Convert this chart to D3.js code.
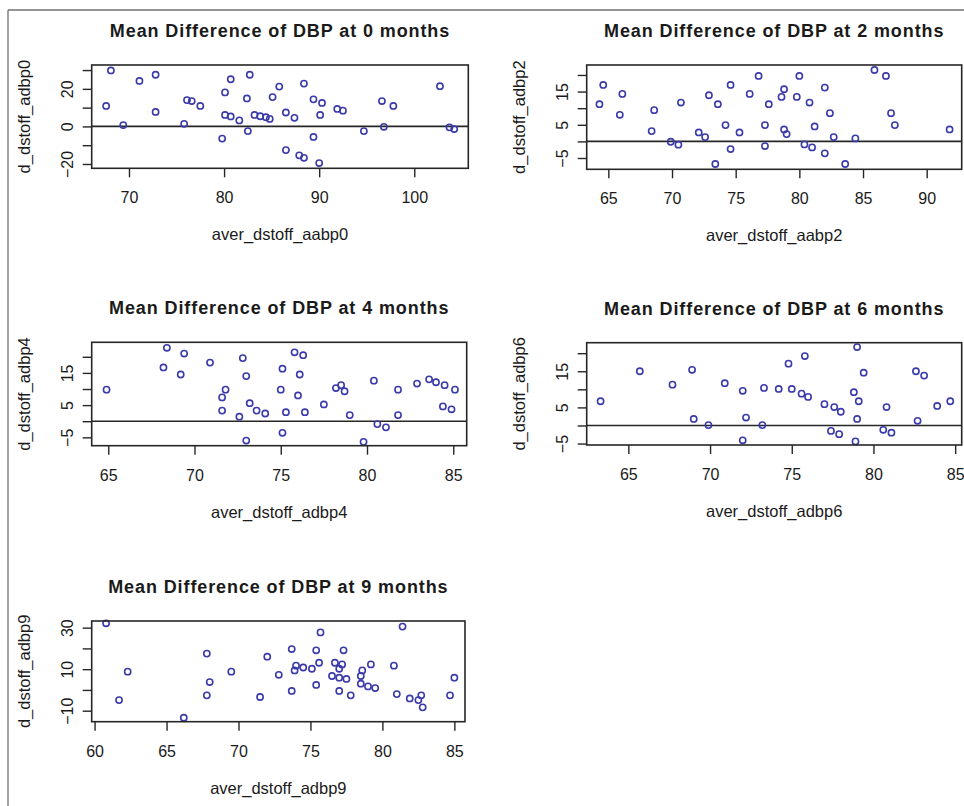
<!DOCTYPE html>
<html>
<head>
<meta charset="utf-8">
<script src="https://cdn.jsdelivr.net/npm/d3@7"></script>
<style>
  html, body { margin: 0; padding: 0; background: #fff; }
  svg { display: block; }
  text { font-family: Arial, "Liberation Sans", Helvetica, sans-serif; fill: #1a1a1a; }
</style>
</head>
<body>
<svg id="chart" width="964" height="806"></svg>
<script>
// ---------------- DATA ----------------
const months = ["0", "2", "4", "6", "9"];
const xTitles = ["aver_dstoff_aabp0", "aver_dstoff_aabp2", "aver_dstoff_adbp4", "aver_dstoff_adbp6", "aver_dstoff_adbp9"];
const yTitles = ["d_dstoff_adbp0", "d_dstoff_adbp2", "d_dstoff_adbp4", "d_dstoff_adbp6", "d_dstoff_adbp9"];

// 0 months
const avg0 = [67.6, 68.1, 69.4, 71.1, 72.8, 72.8, 75.8, 76.1, 76.6, 77.5, 79.8, 80.1, 80.1, 80.7, 80.7, 81.6, 82.4, 82.5, 82.7, 83.2, 83.8, 84.4, 84.8, 85.1, 85.8, 86.5, 86.5, 87.4, 87.9, 88.4, 88.4, 89.4, 89.4, 90.0, 90.3, 90.1, 91.9, 92.5, 94.7, 96.6, 96.8, 97.8, 102.7, 103.7, 104.2];
const diff0 = [10.9, 29.8, 0.7, 24.2, 27.5, 7.7, 1.4, 14.0, 13.5, 10.9, -6.5, 18.1, 6.1, 25.1, 5.3, 3.2, 14.9, -2.5, 27.5, 6.1, 5.4, 4.9, 4.0, 15.6, 21.2, 7.4, -12.6, 4.6, -15.4, 22.8, -16.7, 14.4, -5.6, -19.5, 12.5, 6.1, 9.3, 8.4, -2.5, 13.5, -0.2, 10.9, 21.4, -0.5, -1.4];

// 2 months
const avg2 = [64.3, 64.6, 65.9, 66.1, 68.4, 68.6, 69.9, 70.5, 70.7, 72.1, 72.6, 72.9, 73.6, 73.4, 74.2, 74.6, 74.6, 75.3, 76.1, 76.8, 77.3, 77.3, 77.6, 78.6, 78.8, 78.8, 79.0, 79.8, 80.0, 80.4, 80.8, 81.0, 81.2, 82.0, 82.0, 82.4, 82.7, 83.6, 84.4, 85.9, 86.8, 87.2, 87.5, 91.8];
const diff2 = [11.2, 17.0, 8.0, 14.3, 3.1, 9.4, -0.1, -1.0, 11.7, 2.7, 1.3, 13.9, 11.2, -6.8, 4.9, 17.0, -2.3, 2.7, 14.3, 19.7, 4.9, -1.4, 11.2, 13.4, 15.7, 3.6, 2.2, 13.4, 19.7, -0.9, 11.7, -1.8, 4.5, 16.2, -3.6, 8.5, 1.3, -6.8, 0.9, 21.5, 19.7, 8.5, 4.9, 3.6];

// 4 months
const avg4 = [64.9, 68.2, 68.4, 69.2, 69.4, 70.9, 71.6, 71.8, 71.6, 72.6, 72.8, 73.0, 73.0, 73.2, 73.6, 74.1, 75.0, 75.1, 75.1, 75.3, 75.8, 76.1, 76.0, 76.3, 76.4, 77.5, 78.2, 78.5, 78.7, 79.0, 79.8, 80.4, 80.6, 81.1, 81.8, 81.8, 82.9, 83.6, 84.0, 84.5, 84.4, 84.9, 85.1];
const diff4 = [9.8, 16.7, 22.8, 14.5, 21.0, 18.2, 7.4, 9.8, 3.3, 1.4, 19.6, 14.0, -6.0, 5.6, 3.3, 2.4, 9.8, 16.3, -3.6, 2.8, 21.4, 14.5, 8.0, 20.5, 2.8, 5.2, 10.3, 11.2, 9.3, 1.9, -6.4, 12.6, -0.9, -1.9, 9.8, 1.9, 11.7, 13.0, 12.1, 11.2, 4.6, 3.7, 9.8];

// 6 months
const avg6 = [63.3, 65.7, 67.7, 68.9, 69.0, 69.9, 70.9, 72.0, 72.2, 72.0, 73.2, 73.3, 74.2, 74.8, 75.0, 75.6, 75.8, 76.0, 77.0, 77.4, 77.6, 77.9, 78.0, 78.9, 78.8, 79.1, 79.0, 79.0, 79.4, 80.6, 80.8, 81.1, 82.6, 82.7, 83.1, 83.9, 84.7];
const diff6 = [6.7, 15.0, 11.3, 15.4, 1.8, 0.1, 11.7, 9.6, 2.2, -4.1, 0.1, 10.4, 10.1, 17.1, 10.1, 8.8, 19.2, 7.9, 5.9, -1.5, 5.1, -2.4, 3.8, -4.4, 9.2, 6.7, 21.7, 1.8, 14.6, -1.2, 5.1, -2.0, 15.0, 1.3, 13.8, 5.4, 6.7];

// 9 months
const avg9 = [60.8, 61.7, 62.3, 66.2, 67.8, 67.8, 68.0, 69.5, 71.5, 72.0, 72.8, 73.7, 73.7, 73.9, 74.0, 74.5, 75.1, 75.4, 75.4, 75.6, 75.7, 76.5, 76.7, 77.0, 77.0, 77.0, 77.2, 77.3, 77.5, 77.8, 78.5, 78.5, 78.6, 79.0, 79.2, 79.5, 80.8, 81.0, 81.4, 81.9, 82.5, 82.7, 82.8, 84.7, 85.0];
const diff9 = [32.1, -4.9, 8.8, -13.4, 17.5, -2.6, 3.8, 8.8, -3.4, 16.0, 7.3, 19.7, -0.5, 9.4, 11.7, 10.8, 10.2, 19.1, 2.4, 13.1, 27.7, 6.7, 13.1, -0.5, 10.2, 5.9, 12.3, 19.1, 5.3, -2.6, 6.7, 3.0, 9.4, 1.7, 12.3, 0.9, 11.7, -2.0, 30.5, -4.1, -4.9, -2.6, -8.4, -2.6, 5.9];

// tick values and tick labels
const xTicks0 = [70, 80, 90, 100];
const yTicks0 = [-20, -10, 0, 10, 20, 30];
const yLabels0 = [-20, 0, 20];
const xTicks2 = [65, 70, 75, 80, 85, 90];
const yTicks2 = [-5, 0, 5, 10, 15, 20];
const yLabels2 = [-5, 5, 15];
const xTicks4 = [65, 70, 75, 80, 85];
const yTicks4 = [-5, 0, 5, 10, 15, 20];
const yLabels4 = [-5, 5, 15];
const xTicks6 = [65, 70, 75, 80, 85];
const yTicks6 = [-5, 0, 5, 10, 15, 20];
const yLabels6 = [-5, 5, 15];
const xTicks9 = [60, 65, 70, 75, 80, 85];
const yTicks9 = [-10, 0, 10, 20, 30];
const yLabels9 = [-10, 10, 30];

// axis ranges (R's padded ranges)
const xRange0 = [66.08, 105.68], yRange0 = [-22.3, 32.7];
const xRange2 = [63.3, 92.75],  yRange2 = [-8.4, 23.0];
const xRange4 = [64.04, 85.78], yRange4 = [-7.6, 24.5];
const xRange6 = [62.45, 85.4],  yRange6 = [-5.4, 22.9];
const xRange9 = [59.8, 85.74],  yRange9 = [-15.3, 33.2];

// ---------------- LAYOUT ----------------
const panels = [
  { m: months[0], xs: avg0, ys: diff0, xt: xTicks0, yt: yTicks0, yl: yLabels0, xd: xRange0, yd: yRange0, xTitle: xTitles[0], yTitle: yTitles[0], zero: true,  box: [91.7, 65, 468.3, 168.3] },
  { m: months[1], xs: avg2, ys: diff2, xt: xTicks2, yt: yTicks2, yl: yLabels2, xd: xRange2, yd: yRange2, xTitle: xTitles[1], yTitle: yTitles[1], zero: true,  box: [586.7, 65, 961.7, 169.3] },
  { m: months[2], xs: avg4, ys: diff4, xt: xTicks4, yt: yTicks4, yl: yLabels4, xd: xRange4, yd: yRange4, xTitle: xTitles[2], yTitle: yTitles[2], zero: true,  box: [91.7, 342.3, 466.7, 445.7] },
  { m: months[3], xs: avg6, ys: diff6, xt: xTicks6, yt: yTicks6, yl: yLabels6, xd: xRange6, yd: yRange6, xTitle: xTitles[3], yTitle: yTitles[3], zero: true,  box: [586.7, 342.7, 961.7, 445] },
  { m: months[4], xs: avg9, ys: diff9, xt: xTicks9, yt: yTicks9, yl: yLabels9, xd: xRange9, yd: yRange9, xTitle: xTitles[4], yTitle: yTitles[4], zero: false, box: [91.7, 621, 465, 721.7] }
];

const svg = d3.select("#chart");
const ink = "#262626";
const pointColor = "#3a3aaa";

// outer frame (top and left edges)
svg.append("line").attr("x1", 8).attr("y1", 10).attr("x2", 964).attr("y2", 10)
  .attr("stroke", "#707070").attr("stroke-width", 1.3);
svg.append("line").attr("x1", 8).attr("y1", 10).attr("x2", 8).attr("y2", 806)
  .attr("stroke", "#707070").attr("stroke-width", 1.3);

panels.forEach(p => {
  const [x0, y0, x1, y1] = p.box;
  const x = d3.scaleLinear().domain(p.xd).range([x0, x1]);
  const y = d3.scaleLinear().domain(p.yd).range([y1, y0]);
  const g = svg.append("g");

  // title
  g.append("text")
    .attr("x", (x0 + x1) / 2).attr("y", y0 - 28)
    .attr("text-anchor", "middle")
    .style("font-size", "18px").style("font-weight", "bold")
    .style("letter-spacing", "0.9px")
    .text(`Mean Difference of DBP at ${p.m} months`);

  // x axis
  const xa = g.append("g").attr("transform", `translate(0,${y1})`)
    .call(d3.axisBottom(x).tickValues(p.xt).tickSize(9).tickSizeOuter(0).tickFormat(d3.format("d")));
  xa.select(".domain").remove();
  xa.selectAll("line").attr("stroke", ink).attr("stroke-width", 1.4);
  xa.selectAll("text").attr("y", 35).attr("dy", null)
    .style("font-size", "16px").attr("fill", ink).style("font-family", "Arial, 'Liberation Sans', sans-serif");

  // y axis
  const ya = g.append("g").attr("transform", `translate(${x0},0)`)
    .call(d3.axisLeft(y).tickValues(p.yt).tickSize(9).tickSizeOuter(0)
      .tickFormat(d => p.yl.includes(d) ? d3.format("d")(d).replace("-", "-") : ""));
  ya.select(".domain").remove();
  ya.selectAll("line").attr("stroke", ink).attr("stroke-width", 1.4);
  ya.selectAll("text")
    .attr("x", null).attr("dy", null)
    .attr("transform", "rotate(-90)")
    .attr("x", 0).attr("y", -19)
    .attr("text-anchor", "middle")
    .style("font-size", "16px").attr("fill", ink).style("font-family", "Arial, 'Liberation Sans', sans-serif");

  // axis titles
  g.append("text")
    .attr("x", (x0 + x1) / 2).attr("y", y1 + 72)
    .attr("text-anchor", "middle").style("font-size", "16.5px")
    .text(p.xTitle);
  g.append("text")
    .attr("transform", `translate(${x0 - 62},${(y0 + y1) / 2}) rotate(-90)`)
    .attr("text-anchor", "middle").style("font-size", "16.5px")
    .text(p.yTitle);

  // zero reference line
  if (p.zero) {
    g.append("line")
      .attr("x1", x0).attr("x2", x1).attr("y1", y(0)).attr("y2", y(0))
      .attr("stroke", ink).attr("stroke-width", 1.6);
  }

  // points
  g.append("g").selectAll("circle")
    .data(p.xs.map((v, i) => [v, p.ys[i]]))
    .join("circle")
    .attr("cx", d => x(d[0])).attr("cy", d => y(d[1]))
    .attr("r", 3.1)
    .attr("fill", "none").attr("stroke", pointColor).attr("stroke-width", 1.6);

  // plot box
  g.append("rect")
    .attr("x", x0).attr("y", y0).attr("width", x1 - x0).attr("height", y1 - y0)
    .attr("fill", "none").attr("stroke", ink).attr("stroke-width", 1.6);
});
</script>
</body>
</html>
